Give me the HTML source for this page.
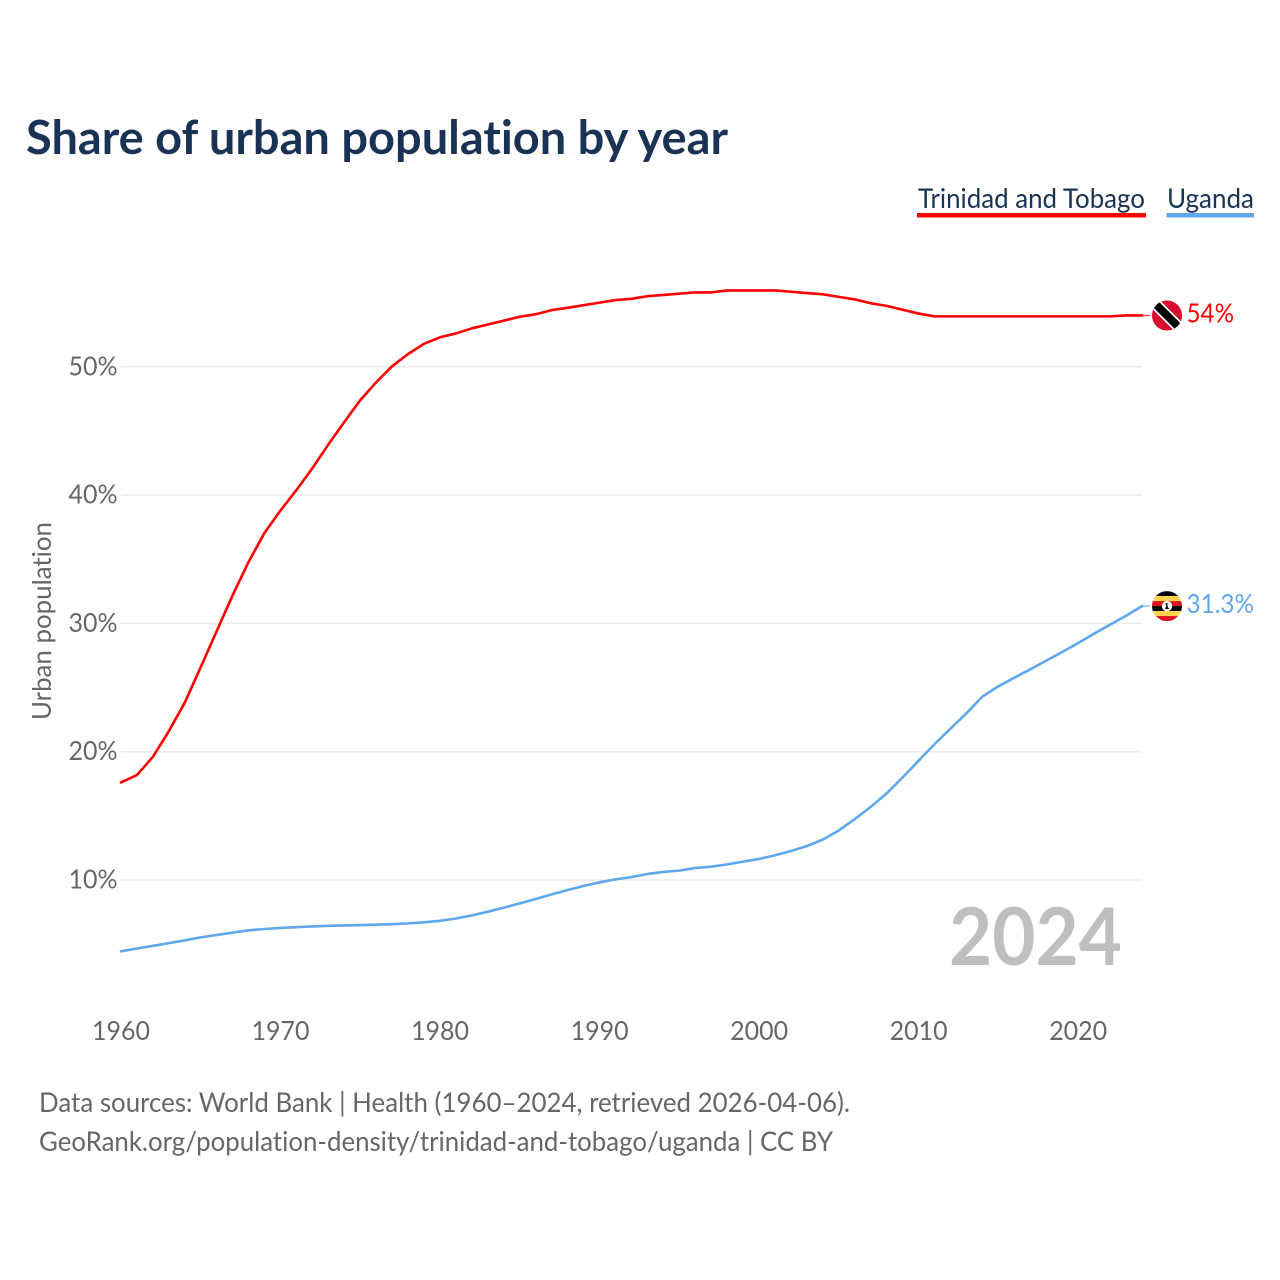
<!DOCTYPE html>
<html lang="en">
<head>
<meta charset="utf-8">
<title>Share of urban population by year</title>
<style>
html,body{margin:0;padding:0;background:#fff}
svg{display:block}
text{font-family:"Lato","Carlito","Liberation Sans",sans-serif;font-variant-ligatures:none;font-feature-settings:"liga" 0,"clig" 0}
</style>
</head>
<body>
<svg id="chart" xmlns="http://www.w3.org/2000/svg" width="1280" height="1280" viewBox="0 0 1280 1280">
  <defs>
    <clipPath id="flag-clip"><circle cx="0" cy="0" r="15"></circle></clipPath>
  </defs>
  <rect x="0" y="0" width="1280" height="1280" fill="#fff"></rect>
  <text x="26" y="154" font-size="47" font-weight="700" fill="#1a3355" textLength="702" lengthAdjust="spacingAndGlyphs">Share of urban population by year</text>

  <g>
    <g>
      <text x="918" y="208" font-size="27" fill="#1a3355" textLength="227" lengthAdjust="spacingAndGlyphs">Trinidad and Tobago</text>
      <rect x="917" y="213" width="229" height="4.5" fill="#ff0000"></rect>
    </g>
    <g>
      <text x="1167" y="208" font-size="27" fill="#1a3355" textLength="87" lengthAdjust="spacingAndGlyphs">Uganda</text>
      <rect x="1166.5" y="213" width="87.5" height="4.5" fill="#5fa8ee"></rect>
    </g>
  </g>

  <g id="grid"></g>
  <g id="y-ticks"></g>
  <g id="x-ticks"></g>
  <text transform="translate(51,720) rotate(-90)" font-size="26" fill="#666" textLength="198" lengthAdjust="spacingAndGlyphs">Urban population</text>
  <text x="949" y="965" font-size="80" font-weight="700" fill="#bfbfbf" textLength="173" lengthAdjust="spacingAndGlyphs">2024</text>

  <g id="series"></g>

  <g id="flag-tt">
    <g clip-path="url(#flag-clip)">
      <rect x="-15" y="-15" width="30" height="30" fill="#da0a2e"></rect>
      <line x1="-15" y1="-15" x2="15" y2="15" stroke="#fff" stroke-width="11.5"></line>
      <line x1="-15" y1="-15" x2="15" y2="15" stroke="#000" stroke-width="8"></line>
    </g>
  </g>
  <g id="flag-ug">
    <g clip-path="url(#flag-clip)">
      <rect x="-15" y="-15" width="30" height="5" fill="#000"></rect>
      <rect x="-15" y="-10" width="30" height="5" fill="#fcd34a"></rect>
      <rect x="-15" y="-5" width="30" height="5" fill="#e01020"></rect>
      <rect x="-15" y="0" width="30" height="5" fill="#000"></rect>
      <rect x="-15" y="5" width="30" height="5" fill="#fcd34a"></rect>
      <rect x="-15" y="10" width="30" height="5" fill="#e01020"></rect>
      <circle cx="0" cy="0" r="5.2" fill="#fff"></circle>
      <path d="M-1.5 -3 L0.5 -3 L0.5 0.5 L2.5 3 L-2 3 L-0.8 0 Z" fill="#000"></path>
    </g>
  </g>

  <text x="39" y="1112" font-size="27" fill="#666" textLength="811" lengthAdjust="spacingAndGlyphs">Data sources: World Bank | Health (1960–2024, retrieved 2026-04-06).</text>
  <text x="39" y="1151" font-size="27" fill="#666" textLength="794" lengthAdjust="spacingAndGlyphs">GeoRank.org/population-density/trinidad-and-tobago/uganda | CC BY</text>
</svg>
<script>
var years = [1960,1961,1962,1963,1964,1965,1966,1967,1968,1969,1970,1971,1972,1973,1974,1975,1976,1977,1978,1979,1980,1981,1982,1983,1984,1985,1986,1987,1988,1989,1990,1991,1992,1993,1994,1995,1996,1997,1998,1999,2000,2001,2002,2003,2004,2005,2006,2007,2008,2009,2010,2011,2012,2013,2014,2015,2016,2017,2018,2019,2020,2021,2022,2023,2024];
var trinidadValues = [17.6,18.18,19.6,21.6,23.83,26.6,29.4,32.2,34.8,37.07,38.8,40.4,42.1,43.95,45.7,47.4,48.8,50.05,51.0,51.8,52.3,52.6,53.0,53.3,53.6,53.9,54.1,54.42,54.6,54.8,55.0,55.2,55.3,55.5,55.6,55.7,55.8,55.8,55.95,55.95,55.95,55.95,55.85,55.75,55.65,55.45,55.25,54.95,54.75,54.45,54.15,53.93,53.93,53.93,53.93,53.93,53.93,53.93,53.93,53.93,53.93,53.93,53.93,54.0,54.0];
var ugandaValues = [4.44,4.66,4.87,5.08,5.3,5.53,5.72,5.9,6.08,6.18,6.26,6.32,6.38,6.43,6.46,6.49,6.52,6.56,6.62,6.7,6.82,7.0,7.24,7.53,7.85,8.18,8.52,8.88,9.22,9.53,9.82,10.05,10.23,10.47,10.63,10.73,10.94,11.04,11.22,11.43,11.64,11.93,12.26,12.65,13.15,13.87,14.75,15.7,16.76,18.0,19.3,20.6,21.8,23.0,24.3,25.1,25.77,26.42,27.1,27.77,28.47,29.2,29.9,30.6,31.35];
var yTickValues = [10,20,30,40,50];
var yTickLabels = ["10%","20%","30%","40%","50%"];
var xTickValues = [1960,1970,1980,1990,2000,2010,2020];
var xTickLabels = ["1960","1970","1980","1990","2000","2010","2020"];
var trinidadLabel = "54%";
var ugandaLabel = "31.3%";

var NS = "http://www.w3.org/2000/svg";
function xScale(year) { return 121 + (year - 1960) * (1142 - 121) / 64; }
function yScale(value) { return 1008.3 - value * 12.83; }
function make(tag, attrs, parent) {
  var el = document.createElementNS(NS, tag);
  for (var k in attrs) { el.setAttribute(k, attrs[k]); }
  parent.appendChild(el);
  return el;
}

var gridLayer = document.getElementById("grid");
var yLayer = document.getElementById("y-ticks");
var xLayer = document.getElementById("x-ticks");
var seriesLayer = document.getElementById("series");

yTickValues.forEach(function (v, i) {
  var line = make("line", {x1: 121, x2: 1142, y1: yScale(v), y2: yScale(v), stroke: "#ebebeb", "stroke-width": 1.5}, gridLayer);
  
  
  var label = make("text", {x: 68.5, y: yScale(v) + 8.5, "font-size": 26, fill: "#666", textLength: 49, lengthAdjust: "spacingAndGlyphs"}, yLayer);
  
  
  label.textContent = yTickLabels[i];
});

xTickValues.forEach(function (v, i) {
  var label = make("text", {x: xScale(v) - 29, y: 1040, "font-size": 26, fill: "#666", textLength: 58, lengthAdjust: "spacingAndGlyphs"}, xLayer);
  
  
  label.textContent = xTickLabels[i];
});

function drawSeries(values, color, lineName, connectorName, labelName, labelText, labelWidth, flagId) {
  var pts = values.map(function (v, i) { return xScale(years[i]).toFixed(2) + "," + yScale(v).toFixed(2); }).join(" ");
  var line = make("polyline", {points: pts, fill: "none", stroke: color, "stroke-width": 2.6, "stroke-linejoin": "round", "stroke-linecap": "round"}, seriesLayer);
  
  
  var lastX = xScale(years[years.length - 1]);
  var lastY = yScale(values[values.length - 1]);
  var connector = make("line", {x1: lastX, x2: lastX + 8, y1: lastY, y2: lastY, stroke: color, "stroke-width": 1.5, opacity: 0.7}, seriesLayer);
  
  
  var label = make("text", {x: 1186.5, y: lastY + 7, "font-size": 26, fill: color, textLength: labelWidth, lengthAdjust: "spacingAndGlyphs"}, seriesLayer);
  
  
  label.textContent = labelText;
  document.getElementById(flagId).setAttribute("transform", "translate(1167," + lastY + ")");
}

drawSeries(trinidadValues, "#ff0000", "line-trinidad-and-tobago", "connector-trinidad-and-tobago", "value-label-trinidad-and-tobago", trinidadLabel, 47.5, "flag-tt");
drawSeries(ugandaValues, "#5fa8ee", "line-uganda", "connector-uganda", "value-label-uganda", ugandaLabel, 67.5, "flag-ug");
</script>
</body>
</html>
